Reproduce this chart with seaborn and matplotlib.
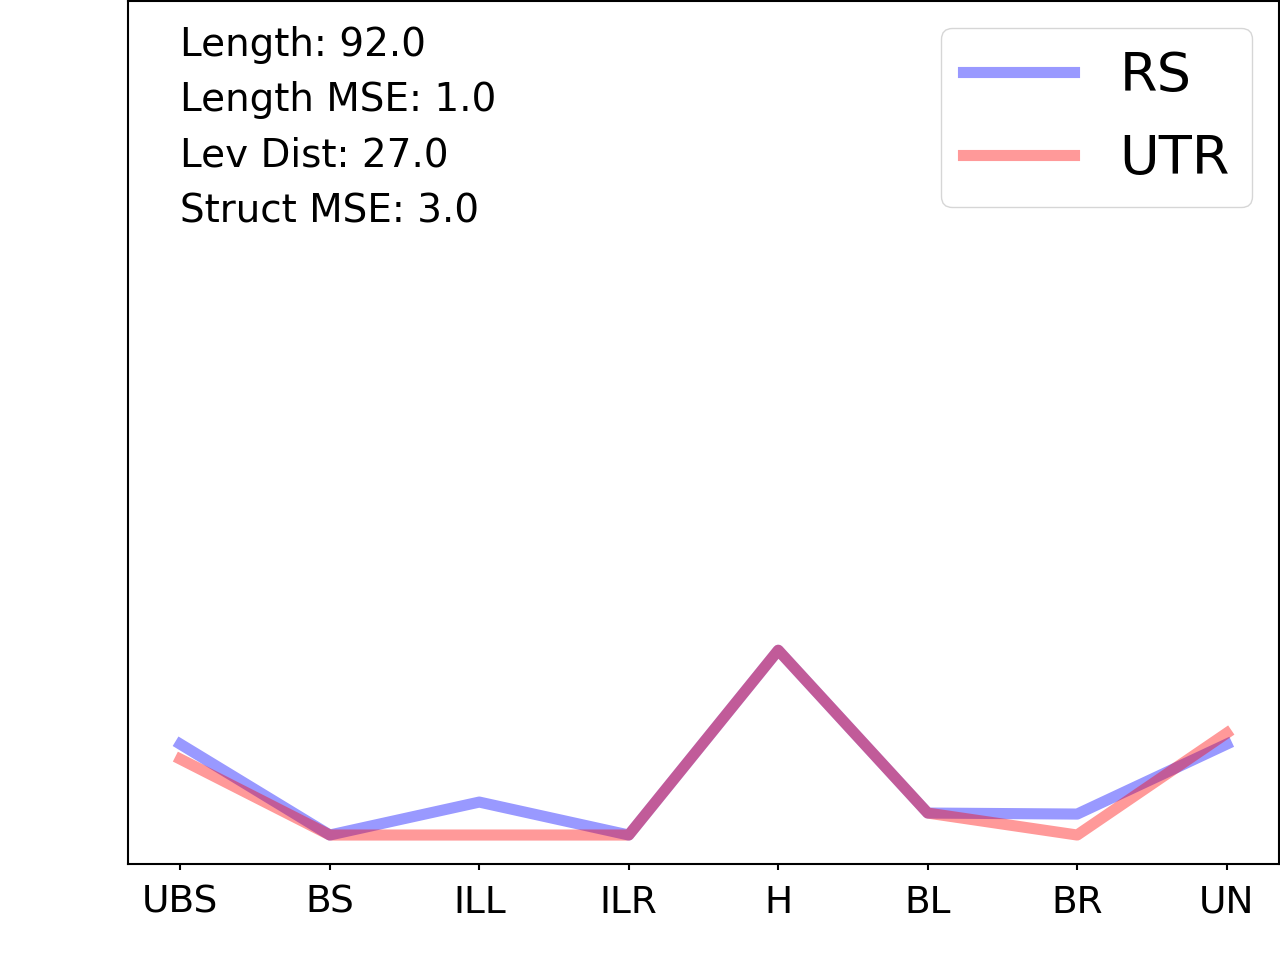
import matplotlib
matplotlib.use("Agg")
import matplotlib.pyplot as plt
import seaborn as sns
import pandas as pd

categories = ["UBS", "BS", "ILL", "ILR", "H", "BL", "BR", "UN"]
rs_values = [9.1, 0.0, 3.3, 0.0, 18.5, 2.2, 2.1, 9.1]
utr_values = [7.6, 0.0, 0.0, 0.0, 18.5, 2.2, 0.0, 10.2]
series_names = ["RS", "UTR"]
info_lines = ["Length: 92.0", "Length MSE: 1.0", "Lev Dist: 27.0", "Struct MSE: 3.0"]

df = pd.DataFrame({
    "cat": categories * 2,
    "val": rs_values + utr_values,
    "series": [series_names[0]] * len(categories) + [series_names[1]] * len(categories),
})

fig = plt.figure(figsize=(12.8, 9.6), dpi=100)
ax = fig.add_axes([128 / 1280, (960 - 864) / 960, (1279 - 128) / 1280, 863 / 960])

sns.lineplot(data=df, x="cat", y="val", hue="series",
             palette={"RS": "blue", "UTR": "red"}, alpha=0.4, linewidth=8,
             sort=False, ax=ax)

ax.set_ylim(-2.9, 83.5)
ax.set_yticks([])
ax.set_xlabel("")
ax.set_ylabel("")
for s in ax.spines.values():
    s.set_linewidth(1.5)
ax.tick_params(axis="x", labelsize=27, length=4.5, width=1.5, pad=10.5)

ax.text(0.045, 0.9715, "\n".join(info_lines), transform=ax.transAxes,
        fontsize=28, va="top", ha="left", linespacing=1.59)

leg = ax.legend(loc="upper right", fontsize=39, handlelength=2.05, labelspacing=0.58,
                handletextpad=0.85)
for h in leg.get_lines():
    h.set_linewidth(8)
    h.set_alpha(0.4)

fig.savefig("out.png", dpi=100)
